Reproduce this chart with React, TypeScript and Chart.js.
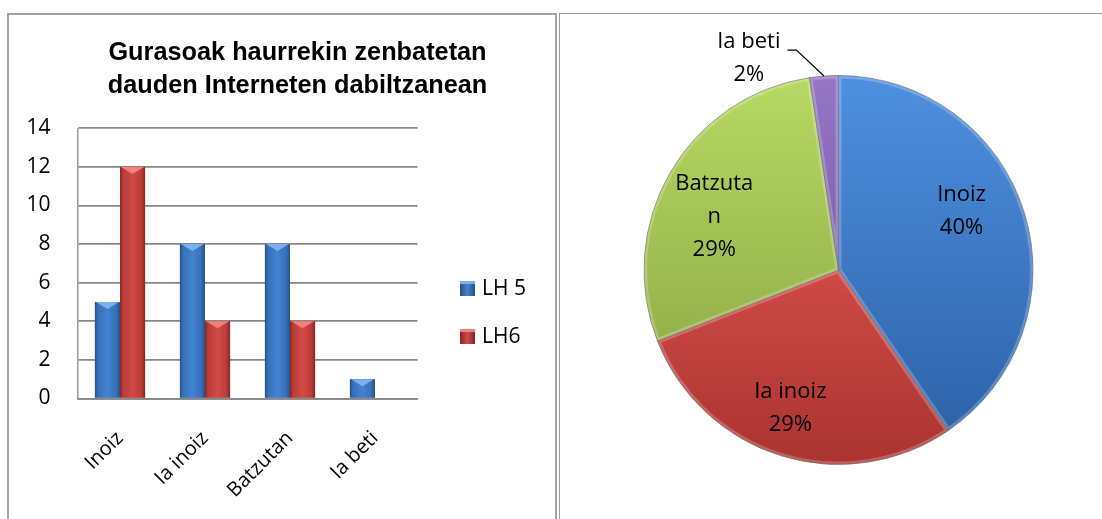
import React, { useEffect, useRef } from 'react';
import { Chart, registerables } from 'chart.js';

Chart.register(...registerables);

// ---------- data ----------
const categories = ['Inoiz', 'Ia inoiz', 'Batzutan', 'Ia beti'];
const seriesNames = ['LH 5', 'LH6'];
const lh5Values = [5, 8, 8, 1];
const lh6Values = [12, 4, 4, 0];
const yMin = 0;
const yMax = 14;
const yStep = 2;
const titleLines = ['Gurasoak haurrekin zenbatetan', 'dauden Interneten dabiltzanean'];
const pieLabels = ['Inoiz', 'Ia inoiz', 'Batzutan', 'Ia beti'];
const pieValues = [17, 12, 12, 1];

// ---------- styles ----------
const FONT = '"Open Sans", "Noto Sans", sans-serif';
const barPalettes = [
  { edge: '#284F86', side: '#3670B8', mid: '#4482D0', top: '#7AB0F0', legend: '#3E79C4' },
  { edge: '#862624', side: '#BA3C39', mid: '#D04A47', top: '#F2807C', legend: '#C3403D' },
];
const piePalettes = [
  ['#4E90E0', '#2B5FA4'],
  ['#F2625C', '#AA3330'],
  ['#B7D964', '#84A03F'],
  ['#9576C6', '#6A4B96'],
];
const pieLabelShiftDeg = [-8.2, 2, -6.6, 0];
const pieLabelRadius = [0.70, 0.755, 0.696, 0];

const barShadePlugin = {
  id: 'barShade',
  afterDatasetsDraw(chart: any) {
    const ctx = chart.ctx as CanvasRenderingContext2D;
    chart.data.datasets.forEach((_ds: any, di: number) => {
      const meta = chart.getDatasetMeta(di);
      const pal = barPalettes[di];
      meta.data.forEach((el: any) => {
        const { x, y, base, width } = el.getProps(['x', 'y', 'base', 'width'], true);
        const h = base - y;
        if (h <= 0.5) return;
        const left = x - width / 2;
        const right = x + width / 2;
        ctx.save();
        const g = ctx.createLinearGradient(left, 0, right, 0);
        g.addColorStop(0, pal.edge);
        g.addColorStop(0.12, pal.side);
        g.addColorStop(0.5, pal.mid);
        g.addColorStop(0.85, pal.side);
        g.addColorStop(1, pal.edge);
        ctx.fillStyle = g;
        ctx.fillRect(left, y, width, h);
        const t = Math.min(7, h);
        ctx.beginPath();
        ctx.moveTo(left + 1, y);
        ctx.lineTo(right - 1, y);
        ctx.lineTo(x, y + t);
        ctx.closePath();
        ctx.fillStyle = pal.top;
        ctx.fill();
        ctx.restore();
      });
    });
  },
};

function wrapText(ctx: CanvasRenderingContext2D, text: string, maxW: number): string[] {
  const words = text.split(' ');
  const lines: string[] = [];
  let cur = '';
  const pushLong = (w: string) => {
    let part = '';
    for (const ch of w) {
      if (ctx.measureText(part + ch).width > maxW && part) {
        lines.push(part);
        part = ch;
      } else part += ch;
    }
    return part;
  };
  for (const w of words) {
    const test = cur ? cur + ' ' + w : w;
    if (ctx.measureText(test).width <= maxW) {
      cur = test;
    } else {
      if (cur) lines.push(cur);
      cur = ctx.measureText(w).width > maxW ? pushLong(w) : w;
    }
  }
  if (cur) lines.push(cur);
  return lines;
}

const pieBevelPlugin = {
  id: 'pieBevel',
  afterDatasetsDraw(chart: any) {
    const ctx = chart.ctx as CanvasRenderingContext2D;
    const meta = chart.getDatasetMeta(0);
    meta.data.forEach((arc: any) => {
      const { x, y, startAngle, endAngle, outerRadius } = arc.getProps(
        ['x', 'y', 'startAngle', 'endAngle', 'outerRadius'], true);
      ctx.save();
      ctx.beginPath();
      ctx.moveTo(x, y);
      ctx.arc(x, y, outerRadius, startAngle, endAngle);
      ctx.closePath();
      ctx.clip();
      ctx.strokeStyle = 'rgba(255,255,255,0.22)';
      ctx.lineWidth = 6;
      ctx.stroke();
      ctx.restore();
    });
  },
};

const pieLabelPlugin = {
  id: 'pieLabels',
  afterDatasetsDraw(chart: any) {
    const ctx = chart.ctx as CanvasRenderingContext2D;
    const meta = chart.getDatasetMeta(0);
    const data = chart.data.datasets[0].data as number[];
    const total = data.reduce((a, b) => a + b, 0);
    const lh = 33;
    ctx.save();
    ctx.font = `22px ${FONT}`;
    ctx.fillStyle = '#000';
    ctx.textAlign = 'center';
    ctx.textBaseline = 'middle';
    meta.data.forEach((arc: any, i: number) => {
      const { x, y, startAngle, endAngle, outerRadius } = arc.getProps(
        ['x', 'y', 'startAngle', 'endAngle', 'outerRadius'], true);
      const mid = (startAngle + endAngle) / 2;
      const pct = Math.round((data[i] / total) * 100) + '%';
      const lines = [...wrapText(ctx, String(chart.data.labels[i]), 86), pct];
      if (data[i] / total < 0.05) {
        const ax = x + Math.cos(mid) * outerRadius;
        const ay = y + Math.sin(mid) * outerRadius;
        const ex = ax - 27.5;
        const ey = ay - 26;
        const fx = ex - 9;
        ctx.save();
        ctx.strokeStyle = '#000';
        ctx.lineWidth = 1.2;
        ctx.beginPath();
        ctx.moveTo(ax, ay);
        ctx.lineTo(ex, ey);
        ctx.lineTo(fx, ey);
        ctx.stroke();
        ctx.restore();
        const maxW = Math.max(...lines.map((l) => ctx.measureText(l).width));
        const cx = fx - 7 - maxW / 2;
        lines.forEach((l, k) => ctx.fillText(l, cx, ey - 8 + k * lh));
      } else {
        const a = mid + (pieLabelShiftDeg[i] * Math.PI) / 180;
        const r = outerRadius * pieLabelRadius[i];
        const cx = x + Math.cos(a) * r;
        const cy = y + Math.sin(a) * r;
        const y0 = cy - ((lines.length - 1) * lh) / 2;
        lines.forEach((l, k) => ctx.fillText(l, cx, y0 + k * lh));
      }
    });
    ctx.restore();
  },
};

export default function App() {
  const barRef = useRef<HTMLCanvasElement>(null);
  const pieRef = useRef<HTMLCanvasElement>(null);

  useEffect(() => {
    const gridColor = '#878787';
    const bar = new Chart(barRef.current!, {
      type: 'bar',
      data: {
        labels: categories,
        datasets: [
          { label: seriesNames[0], data: lh5Values, backgroundColor: barPalettes[0].mid, borderWidth: 0 },
          { label: seriesNames[1], data: lh6Values, backgroundColor: barPalettes[1].mid, borderWidth: 0 },
        ],
      },
      options: {
        responsive: false,
        animation: false,
        layout: { padding: { left: 0, top: 128.3, right: 139.5, bottom: 0 } },
        plugins: { legend: { display: false }, tooltip: { enabled: false }, title: { display: false } },
        datasets: { bar: { categoryPercentage: 0.59, barPercentage: 1 } },
        scales: {
          x: {
            grid: { display: false, drawTicks: false },
            border: { display: true, color: gridColor, width: 1.7 },
            ticks: {
              minRotation: 45,
              maxRotation: 45,
              padding: 28,
              color: '#000',
              font: { family: FONT, size: 20 },
            },
            afterFit: (s: any) => { s.height = 120.5; },
          },
          y: {
            min: yMin,
            max: yMax,
            ticks: { stepSize: yStep, padding: 27, color: '#000', font: { family: FONT, size: 21 } },
            grid: { color: gridColor, lineWidth: 1.7, drawTicks: false },
            border: { display: true, color: '#9a9a9a', width: 1.5 },
            afterFit: (s: any) => { s.width = 77.5; },
          },
        },
      },
      plugins: [barShadePlugin],
    } as any);

    const pie = new Chart(pieRef.current!, {
      type: 'pie',
      data: {
        labels: pieLabels,
        datasets: [
          {
            data: pieValues,
            backgroundColor: (c: any) => {
              const pal = piePalettes[c.dataIndex % piePalettes.length];
              const area = c.chart.chartArea;
              if (!area) return pal[0];
              const g = c.chart.ctx.createLinearGradient(0, area.top, 0, area.bottom);
              g.addColorStop(0, pal[0]);
              g.addColorStop(1, pal[1]);
              return g;
            },
            borderColor: 'rgba(50,50,50,0.45)',
            borderWidth: 1,
          },
        ],
      },
      options: {
        responsive: false,
        animation: false,
        layout: { padding: { left: 83.5, right: 68.5, top: 75, bottom: 54 } },
        plugins: { legend: { display: false }, tooltip: { enabled: false } },
      },
      plugins: [pieBevelPlugin, pieLabelPlugin],
    } as any);

    return () => {
      bar.destroy();
      pie.destroy();
    };
  }, []);

  return (
    <div style={{ position: 'fixed', left: 0, top: 0, width: 1102, height: 519, overflow: 'hidden', background: '#fff' }}>
      <div style={{ position: 'absolute', left: 7, top: 13, width: 546, height: 600, border: '2px solid #a3a3a3' }} />
      <div style={{ position: 'absolute', left: 559, top: 13, width: 600, height: 600, border: '1.5px solid #9a9a9a' }} />
      <canvas ref={barRef} width={557} height={519} style={{ position: 'absolute', left: 0, top: 0 }} />
      <canvas ref={pieRef} width={542} height={519} style={{ position: 'absolute', left: 560, top: 0 }} />
      <div
        style={{
          position: 'absolute', left: 0, top: 34.8, width: 595, textAlign: 'center',
          font: 'bold 25.3px "Liberation Sans", Arial, sans-serif', lineHeight: '33px', color: '#000',
        }}
      >
        {titleLines.map((t) => (
          <div key={t}>{t}</div>
        ))}
      </div>
      {seriesNames.map((n, i) => (
        <React.Fragment key={n}>
          <div
            style={{
              position: 'absolute', left: 460, top: 281 + i * 48.4, width: 15, height: 15,
              background: `linear-gradient(90deg, ${barPalettes[i].edge}, ${barPalettes[i].mid} 50%, ${barPalettes[i].edge})`,
              boxShadow: `inset 0 3px 0 ${barPalettes[i].top}`,
            }}
          />
          <div
            style={{
              position: 'absolute', left: 482, top: 277 + i * 48.4, font: `21px ${FONT}`,
              lineHeight: '21px', color: '#000', whiteSpace: 'nowrap',
            }}
          >
            {n}
          </div>
        </React.Fragment>
      ))}
    </div>
  );
}
